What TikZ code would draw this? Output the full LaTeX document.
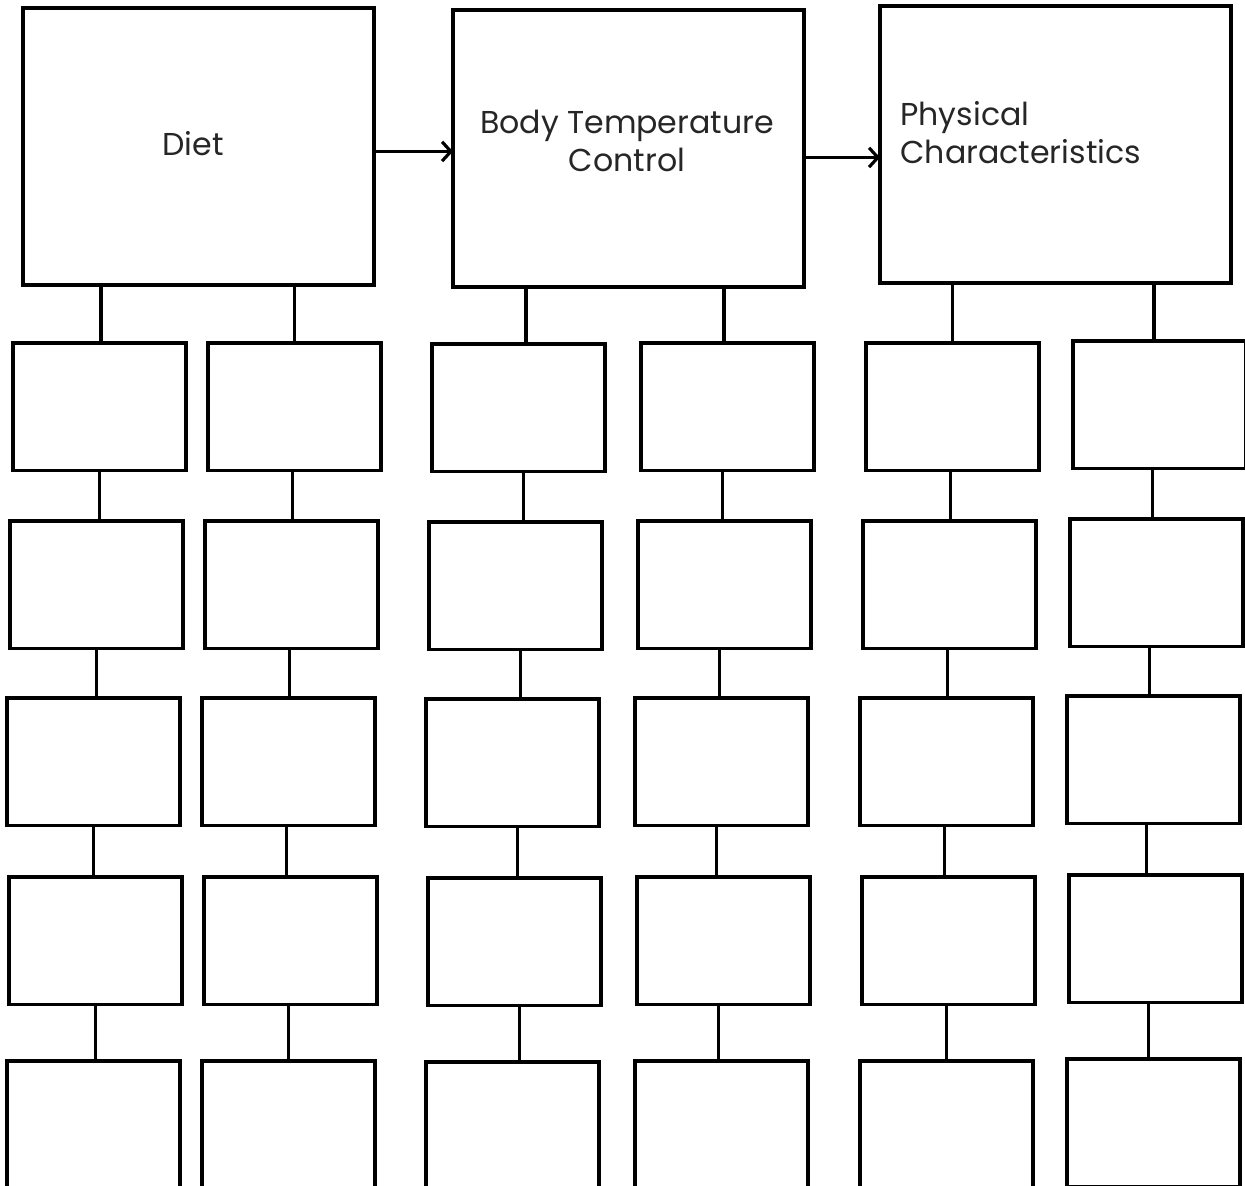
\documentclass[tikz,border=0pt]{standalone}
\usepackage{fontspec}
\setmainfont{Poppins}
\usetikzlibrary{arrows.meta}

\begin{document}
\begin{tikzpicture}[x=0.02cm, y=-0.02cm, line width=1.8pt,
    bigbox/.style={draw, minimum width=7.02cm, minimum height=5.54cm,
        anchor=north west, inner sep=0pt, outer sep=0pt},
    smallbox/.style={draw, minimum width=3.46cm, minimum height=2.55cm,
        anchor=north west, inner sep=0pt, outer sep=0pt},
    head/.style={font=\fontsize{18}{21.6}\selectfont, text=black!85, align=center},
    link/.style={-{Straight Barb[length=5pt,width=11pt]}}]
    % frame of the page
    \useasboundingbox (0,0) rectangle (1245,1186);
    \clip (0,0) rectangle (1245,1186);

    % 1. Top boxes
    \node[bigbox] (diet) at (23,8) {};
    \node[bigbox] (btc) at (453,10) {};
    \node[bigbox] (phys) at (880,6) {};

    \node[head] (diettxt) at (193,144) {Diet};
    \node[head] (btctxt) at (627,141) {Body Temperature\\Control};
    \node[head, anchor=west, align=left] (phystxt) at (893,133) {Physical\\Characteristics};

    % arrows between the top boxes
    \draw[link] ([yshift=-0.1cm]diet.east) -- ([yshift=-0.1cm]diet.east -| btc.west);
    \draw[link] ([yshift=-0.18cm]btc.east) -- ([yshift=-0.18cm]btc.east -| phys.west);

    % 2. Columns of small boxes (column, left edge, top offset)
    \foreach \c/\x/\dy in {1/13/0, 2/208/0, 3/432/1, 4/641/0, 5/866/0, 6/1073/-2} {
        \foreach \r/\dx/\y in {1/0/343, 2/-3/521, 3/-6/698, 4/-4/877, 5/-6/1061} {
            \node[smallbox] (b\c\r) at (\x+\dx,\y+\dy) {};
        }
    }

    % 3. Links inside each column (shift of the link from the box centre)
    \foreach \c/\s in {1/0, 2/-0.04, 3/0.1, 4/-0.1, 5/-0.04, 6/-0.14} {
        \foreach \r/\n in {1/2, 2/3, 3/4, 4/5} {
            \draw ([xshift=\s cm]b\c\r.south) -- ([xshift=\s cm]b\c\r.south |- b\c\n.north);
        }
    }

    % links from the top boxes
    \draw ([xshift=0.03cm]diet.south -| b11.north) -- ([xshift=0.03cm]b11.north);
    \draw (diet.south -| b21.north) -- (b21.north);
    \draw ([xshift=0.15cm]btc.south -| b31.north) -- ([xshift=0.15cm]b31.north);
    \draw ([xshift=-0.07cm]btc.south -| b41.north) -- ([xshift=-0.07cm]b41.north);
    \draw (phys.south -| b51.north) -- (b51.north);
    \draw ([xshift=-0.11cm]phys.south -| b61.north) -- ([xshift=-0.11cm]b61.north);
\end{tikzpicture}
\end{document}
